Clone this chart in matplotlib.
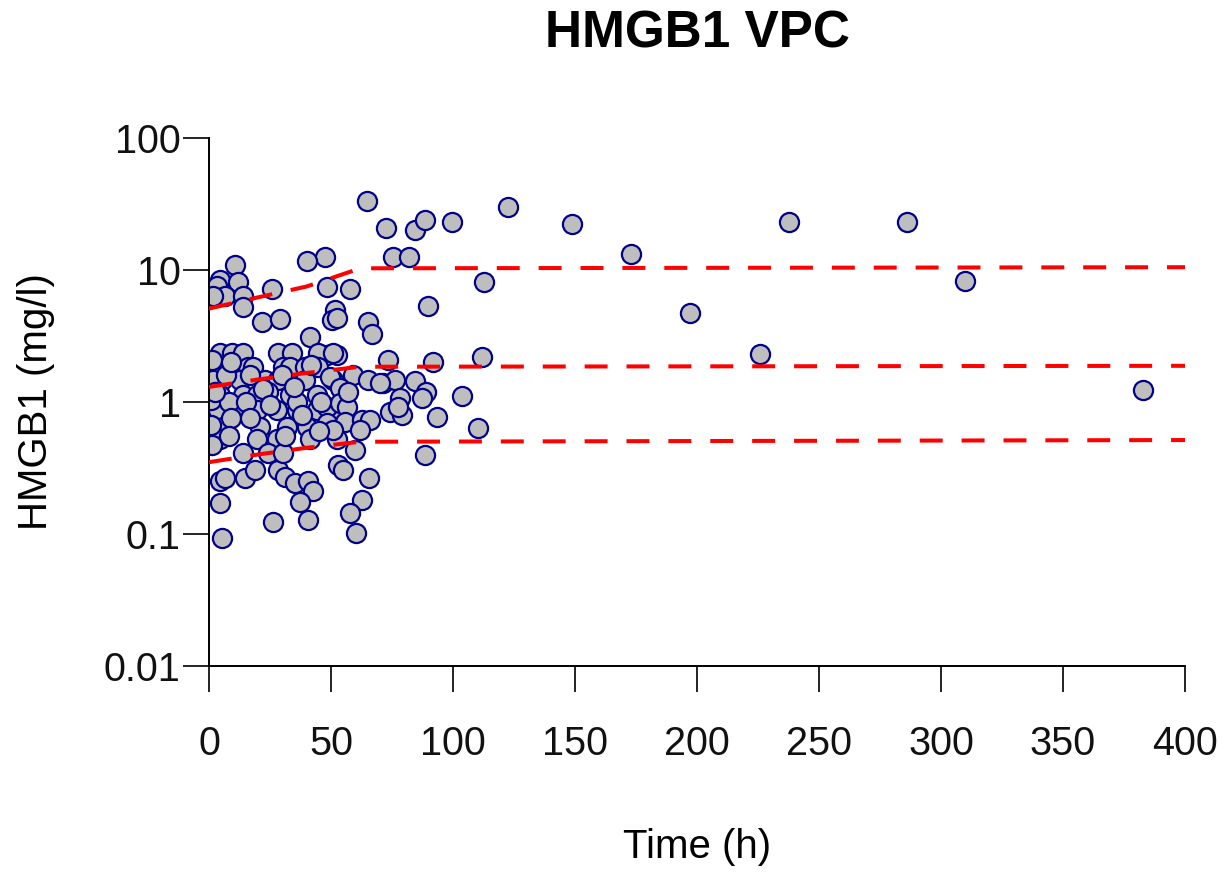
import matplotlib
matplotlib.use("Agg")
import matplotlib.pyplot as plt

plt.rcParams['font.family'] = ['Liberation Sans', 'DejaVu Sans']

# observed HMGB1 concentrations (time in h, conc in mg/l)
time_h = [
    64.6, 72.4, 84.4, 88.5, 99.7, 122.5, 47.5, 75.5, 82.1, 112.8, 48.2, 57.8,
    89.9, 51.6, 50.3, 52.3, 65.3, 66.7, 73.4, 91.8, 111.8, 48.2, 52.3,
    148.8, 173.0, 197.0, 225.8, 237.7, 286.0, 310.0, 382.8,
    59.2, 65.3, 71.4, 76.2, 84.4, 88.9, 103.7, 78.3, 87.2, 74.2, 79.0, 77.6,
    93.3, 110.4, 88.5, 59.8, 53.0, 55.0, 65.7, 62.6, 57.8, 60.2,
    10.7, 4.5, 12.0, 3.2, 6.6, 1.6, 14.1, 14.1, 25.7, 21.6, 29.1, 41.4, 40.3,
    4.5, 6.6, 14.8, 18.9, 28.4, 31.1, 35.2, 40.7, 42.8, 37.3, 4.5, 26.4, 40.7, 5.2,
    4.5, 9.4, 13.9, 28.3, 34.0, 44.7, 50.8,
    4.5, 16.0, 18.0, 30.3, 33.2, 39.3, 44.7,
    5.3, 12.7, 23.0, 28.3, 39.3, 50.8,
    4.5, 13.9, 19.7, 33.2, 44.3,
    3.7, 11.5, 19.7, 27.9, 36.1, 44.3, 50.8,
    5.7, 20.9, 32.0, 40.2, 48.4,
    4.5, 19.7, 27.9, 41.4, 52.5,
    13.9, 24.2, 30.3,
    49.6, 53.7, 48.4, 53.7, 56.6, 48.4, 55.7, 62.7, 66.0, 61.9, 50.8, 70.1,
    0.8, 0.8, 1.2, 1.2, 1.6, 8.0, 24.0, 36.0, 17.0, 9.0,
    2.5, 7.0, 9.0, 15.0, 17.0, 22.0, 25.0, 30.0, 35.0, 38.0, 42.0, 46.0,
    8.0, 31.0, 45.0, 57.0,
]
hmgb1 = [
    33.5, 20.8, 20.1, 23.9, 23.0, 30.2, 12.6, 12.5, 12.5, 8.15, 7.47, 7.18,
    5.37, 4.98, 4.18, 4.33, 4.06, 3.26, 2.08, 2.0, 2.2, 2.27, 2.27,
    22.3, 13.2, 4.72, 2.31, 23.1, 23.1, 8.26, 1.23,
    1.60, 1.47, 1.39, 1.47, 1.43, 1.20, 1.11, 1.07, 1.07, 0.845, 0.80, 0.92,
    0.77, 0.63, 0.40, 0.43, 0.333, 0.305, 0.264, 0.181, 0.144, 0.102,
    10.9, 8.4, 8.15, 7.5, 6.3, 6.3, 6.3, 5.27, 7.14, 4.06, 4.23, 3.12, 11.6,
    0.25, 0.266, 0.264, 0.305, 0.305, 0.27, 0.242, 0.25, 0.21, 0.176, 0.171, 0.124, 0.128, 0.093,
    2.35, 2.35, 2.35, 2.35, 2.35, 2.35, 2.35,
    1.84, 1.84, 1.84, 1.84, 1.84, 1.84, 1.84,
    1.47, 1.47, 1.47, 1.47, 1.47, 1.47,
    1.13, 1.13, 1.13, 1.13, 1.13,
    0.87, 0.87, 0.87, 0.87, 0.87, 0.87, 0.87,
    0.65, 0.65, 0.65, 0.65, 0.65,
    0.52, 0.52, 0.52, 0.52, 0.52,
    0.41, 0.41, 0.41,
    1.55, 1.28, 0.92, 0.98, 0.92, 0.69, 0.71, 0.73, 0.73, 0.61, 0.61, 1.39,
    1.03, 0.67, 0.47, 2.08, 1.47, 1.0, 1.2, 1.0, 1.6, 0.75,
    1.2, 1.6, 2.0, 1.0, 0.75, 1.25, 0.95, 1.6, 1.3, 0.8, 1.9, 1.0,
    0.55, 0.55, 0.6, 1.2,
]

# VPC prediction interval lines
vpc_time = [0, 20, 40, 62, 400]
p05 = [0.35, 0.40, 0.45, 0.50, 0.515]
p50 = [1.30, 1.48, 1.66, 1.85, 1.88]
p95 = [5.1, 6.2, 7.5, 10.3, 10.5]

fig = plt.figure(figsize=(12.22, 8.72), dpi=100)
ax = fig.add_axes([209 / 1222, 1 - 666 / 872, 976 / 1222, 528 / 872])

ax.scatter(time_h, hmgb1, s=190, facecolor='#BEBEBE', edgecolor='#00008B',
           linewidth=1.6, zorder=2)
for q in (p05, p50, p95):
    ax.plot(vpc_time, q, color='red', lw=2.9, dashes=(5.7, 4.7),
            dash_capstyle='butt', zorder=3)

ax.set_yscale('log')
ax.set_xlim(0, 400)
ax.set_ylim(0.01, 100)
ax.set_xticks(range(0, 401, 50))
ax.set_yticks([0.01, 0.1, 1, 10, 100])
ax.set_yticklabels(['0.01', '0.1', '1', '10', '100'])
ax.yaxis.set_minor_locator(matplotlib.ticker.NullLocator())

for side in ('top', 'right'):
    ax.spines[side].set_visible(False)
for side in ('left', 'bottom'):
    ax.spines[side].set_linewidth(1.4)
ax.tick_params(length=18.5, width=1.4, labelsize=28.5, color='#222222',
               labelcolor='#111111')
ax.tick_params(axis='x', pad=24)
ax.tick_params(axis='y', pad=2)

fig.text(697 / 1222, 1 - 34 / 872, 'HMGB1 VPC', ha='center', va='center',
         fontsize=37, fontweight='bold')
fig.text(697 / 1222, 1 - 847 / 872, 'Time (h)', ha='center', va='center',
         fontsize=29)
fig.text(36 / 1222, 1 - 402 / 872, 'HMGB1 (mg/l)', ha='center', va='center',
         fontsize=29, rotation=90)

fig.savefig('out.png', dpi=100)
